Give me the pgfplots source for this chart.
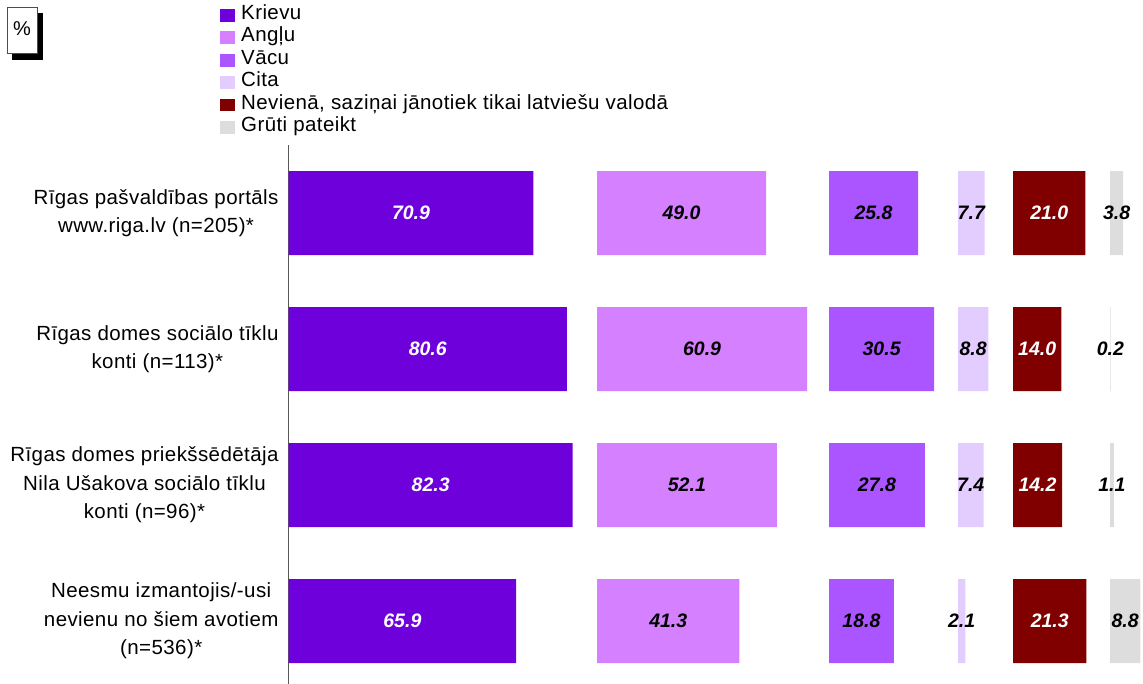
\documentclass[border=0pt]{standalone}
\usepackage{fontspec}
\setmainfont{Liberation Sans}[LetterSpace=2]
\usepackage{pgfplots}
\usepackage{pgfplotstable}
\pgfplotsset{compat=1.18}

\definecolor{cKrievu}{RGB}{110,0,220}
\definecolor{cAnglu}{RGB}{213,128,255}
\definecolor{cVacu}{RGB}{170,85,255}
\definecolor{cCita}{RGB}{227,205,255}
\definecolor{cNekas}{RGB}{128,0,0}
\definecolor{cGruti}{RGB}{221,221,221}

% row 4 = top group
\pgfplotstableread{
row krievu anglu vacu cita nekas gruti
4   70.9   49.0  25.8 7.7  21.0  3.8
3   80.6   60.9  30.5 8.8  14.0  0.2
2   82.3   52.1  27.8 7.4  14.2  1.1
1   65.9   41.3  18.8 2.1  21.3  8.8
}\rigadata

\newcommand\txtfont{\fontsize{20.5}{28.5}\selectfont}

\pgfplotsset{
  panel/.style={x=3.45pt, y=136pt, xmin=0, xmax=#1, ymin=0.537, ymax=4.5,
    anchor=south west, clip=false,
    /pgf/number format/fixed, /pgf/number format/fixed zerofill,
    /pgf/number format/precision=1, /pgf/number format/assume math mode=true},
  bars/.style={xbar, bar width=84pt, bar shift=0pt, fill=#1, draw=none, forget plot},
  vals/.style={draw=none, mark=none, forget plot, nodes near coords, point meta=explicit,
    nodes near coords style={anchor=center, text=#1,
      font=\fontsize{19.5}{19.5}\selectfont\addfontfeatures{LetterSpace=0}\bfseries\itshape}},
}

\begin{document}
\begin{tikzpicture}
\useasboundingbox (0,0) rectangle (1143pt,684pt);
% percent box with shadow
\fill[black] (12pt,624pt) rectangle (43pt,671pt);
\draw[fill=white, draw=black!70] (7pt,631pt) rectangle (37pt,677pt);
\node[font=\fontsize{20}{20}\selectfont] at (22pt,655pt) {\%};

\begin{axis}[panel=89.4, at={(288.7pt,0pt)},
  axis x line=none, axis y line*=left,
  axis line style={-, draw=black!65, line width=1.2pt},
  xtick=\empty, ytick={1,2,3,4}, major tick length=0pt,
  yticklabels={
    {Neesmu izmantojis/-usi\\nevienu no šiem avotiem\\(n=536)*},
    {Rīgas domes priekšsēdētāja\\Nila Ušakova sociālo tīklu\\konti (n=96)*},
    {Rīgas domes sociālo tīklu\\konti (n=113)*},
    {Rīgas pašvaldības portāls\\www.riga.lv (n=205)*}},
  yticklabel style={align=center, font=\txtfont, anchor=east, inner sep=0pt, xshift=-10pt},
  legend style={at={(-0.2228,1.2633)}, anchor=north west, draw=none, fill=none,
    inner sep=0pt, column sep=5pt, font=\txtfont,
    nodes={inner sep=1pt, text height=15.2pt, text depth=5.2pt}},
  legend cell align=left,
  legend image code/.code={\fill[#1, draw=none] (0pt,-7.2pt) rectangle (15pt,5.5pt);},
]
\addplot[bars=cKrievu] table[x=krievu, y=row] {\rigadata};
\addplot[vals=white] table[x expr=\thisrow{krievu}/2, y=row, meta=krievu] {\rigadata};
\addlegendimage{fill=cKrievu}\addlegendentry{Krievu}
\addlegendimage{fill=cAnglu}\addlegendentry{Angļu}
\addlegendimage{fill=cVacu}\addlegendentry{Vācu}
\addlegendimage{fill=cCita}\addlegendentry{Cita}
\addlegendimage{fill=cNekas}\addlegendentry{Nevienā, saziņai jānotiek tikai latviešu valodā}
\addlegendimage{fill=cGruti}\addlegendentry{Grūti pateikt}
\end{axis}

\begin{axis}[panel=67.2, at={(597pt,0pt)}, hide axis]
\addplot[bars=cAnglu] table[x=anglu, y=row] {\rigadata};
\addplot[vals=black] table[x expr=\thisrow{anglu}/2, y=row, meta=anglu] {\rigadata};
\end{axis}

\begin{axis}[panel=37.4, at={(829pt,0pt)}, hide axis]
\addplot[bars=cVacu] table[x=vacu, y=row] {\rigadata};
\addplot[vals=black] table[x expr=\thisrow{vacu}/2, y=row, meta=vacu] {\rigadata};
\end{axis}

\begin{axis}[panel=15.9, at={(958pt,0pt)}, hide axis]
\addplot[bars=cCita] table[x=cita, y=row] {\rigadata};
\addplot[vals=black] table[x expr=\thisrow{cita}/2, y=row, meta=cita] {\rigadata};
\end{axis}

\begin{axis}[panel=28.1, at={(1013pt,0pt)}, hide axis]
\addplot[bars=cNekas] table[x=nekas, y=row] {\rigadata};
\addplot[vals=white] table[x expr=\thisrow{nekas}/2, y=row, meta=nekas] {\rigadata};
\end{axis}

\begin{axis}[panel=9.6, at={(1110pt,0pt)}, hide axis]
\addplot[bars=cGruti] table[x=gruti, y=row] {\rigadata};
\addplot[vals=black] table[x expr=\thisrow{gruti}/2, y=row, meta=gruti] {\rigadata};
\end{axis}
\end{tikzpicture}
\end{document}
